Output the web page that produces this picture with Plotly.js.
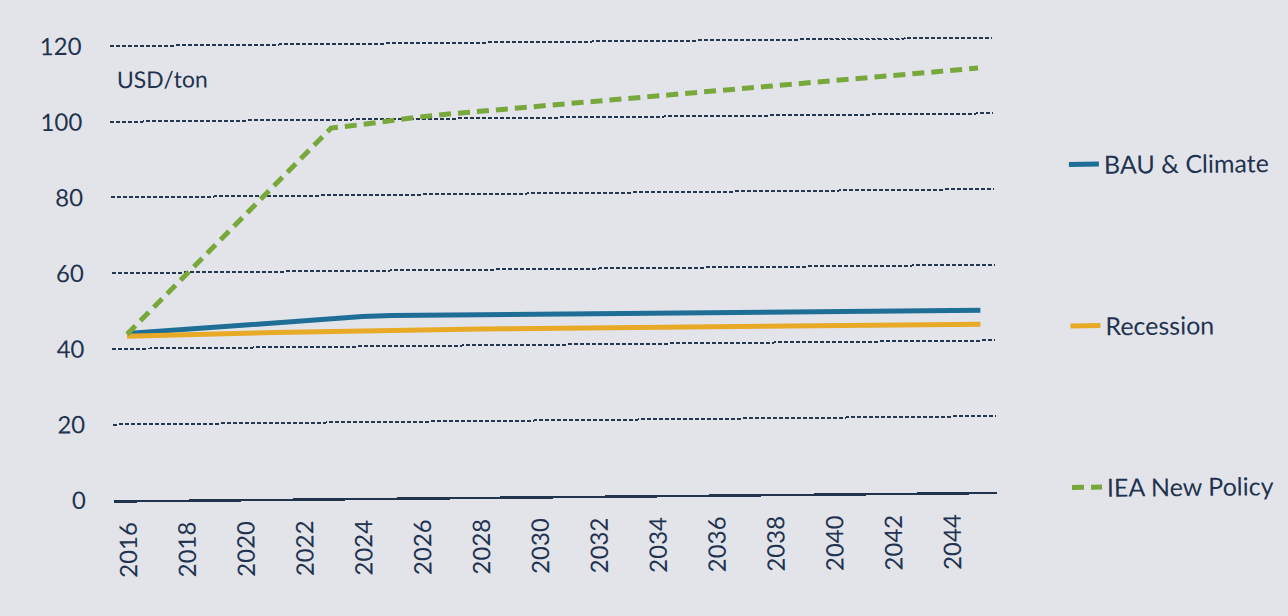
<!DOCTYPE html>
<html>
<head>
<meta charset="utf-8">
<script src="https://cdn.plot.ly/plotly-3.0.1.min.js"></script>
<style>
  html, body { margin: 0; padding: 0; background: #e3e4ea; overflow: hidden; }
  #wrap { width: 1288px; height: 616px; transform: rotate(-0.55deg); transform-origin: 553px 300px; }
  #chart { width: 1288px; height: 616px; }
</style>
</head>
<body>
<div id="wrap"><div id="chart"></div></div>
<script>
// ---- data ----
const years = [2016,2017,2018,2019,2020,2021,2022,2023,2024,2025,2026,2027,2028,2029,2030,
               2031,2032,2033,2034,2035,2036,2037,2038,2039,2040,2041,2042,2043,2044,2045];
const bauClimate = [44.0,44.5,45.0,45.6,46.2,46.7,47.2,47.6,47.9,48.1,48.1,48.1,48.1,48.1,48.1,
                    48.1,48.1,48.1,48.1,48.1,48.1,48.1,48.1,48.0,48.0,48.0,48.0,48.0,48.0,48.0];
const recession = [43.3,43.5,43.6,43.7,43.8,43.9,44.0,44.1,44.2,44.3,44.3,44.3,44.3,44.3,44.3,
                   44.3,44.3,44.3,44.3,44.3,44.3,44.3,44.3,44.3,44.3,44.3,44.3,44.3,44.3,44.3];
const ieaNewPolicy = [43.8,51.5,59.2,66.9,74.6,82.3,90.0,97.8,98.6,99.6,100.5,101.2,101.8,102.4,103.0,
                      103.6,104.2,104.8,105.4,106.0,106.6,107.2,107.8,108.4,109.0,109.6,110.2,110.8,111.4,112.0];
const seriesNames = ["BAU & Climate", "Recession", "IEA New Policy"];
const yTickVals = [0,20,40,60,80,100,120];
const xTickVals = [2016,2018,2020,2022,2024,2026,2028,2030,2032,2034,2036,2038,2040,2042,2044];
const unitLabel = "USD/ton";

const textColor = "#223350";
const font = "Lato, 'Noto Sans', sans-serif";

const traces = [
  { x: years, y: bauClimate, name: seriesNames[0], type: "scatter", mode: "lines",
    line: { color: "#1f6e96", width: 5 }, legendgroup: "a" },
  { x: years, y: recession, name: seriesNames[1], type: "scatter", mode: "lines",
    line: { color: "#e8a927", width: 5 }, legendgroup: "b" },
  { x: years, y: ieaNewPolicy, name: seriesNames[2], type: "scatter", mode: "lines",
    line: { color: "#78a83b", width: 5, dash: "12px,7px" }, legendgroup: "c" }
];

const layout = {
  width: 1288, height: 616,
  paper_bgcolor: "#e3e4ea",
  plot_bgcolor: "rgba(0,0,0,0)",
  margin: { l: 112, r: 293, t: 40, b: 120 },
  font: { family: font, color: textColor },
  showlegend: true,
  legend: {
    xref: "container", yref: "container",
    x: 0.827, y: 0.762, xanchor: "left", yanchor: "top",
    bgcolor: "rgba(0,0,0,0)",
    font: { family: font, size: 25, color: textColor },
    tracegroupgap: 126,
    traceorder: "grouped",
    maxheight: 600
  },
  xaxis: {
    range: [2015.5, 2045.5],
    tickvals: xTickVals,
    ticktext: xTickVals.map(String),
    tickangle: -90,
    tickfont: { family: font, size: 24, color: textColor },
    ticks: "", ticklabelstandoff: 10,
    showgrid: false, zeroline: false,
    showline: true, linecolor: "#22334d", linewidth: 2.5,
    fixedrange: true
  },
  yaxis: {
    range: [0, 120.5],
    tickvals: yTickVals,
    tickfont: { family: font, size: 24, color: textColor },
    ticks: "", ticklabelstandoff: 27,
    showgrid: true, gridcolor: "#25364f", gridwidth: 2, griddash: "4px,2px",
    zeroline: false, showline: false,
    fixedrange: true
  },
  annotations: [
    { text: unitLabel, xref: "paper", yref: "y", x: 0.006, y: 111.3,
      xanchor: "left", yanchor: "middle", showarrow: false,
      font: { family: font, size: 23, color: textColor } }
  ]
};

Plotly.newPlot("chart", traces, layout, { displayModeBar: false, staticPlot: true });
</script>
</body>
</html>
